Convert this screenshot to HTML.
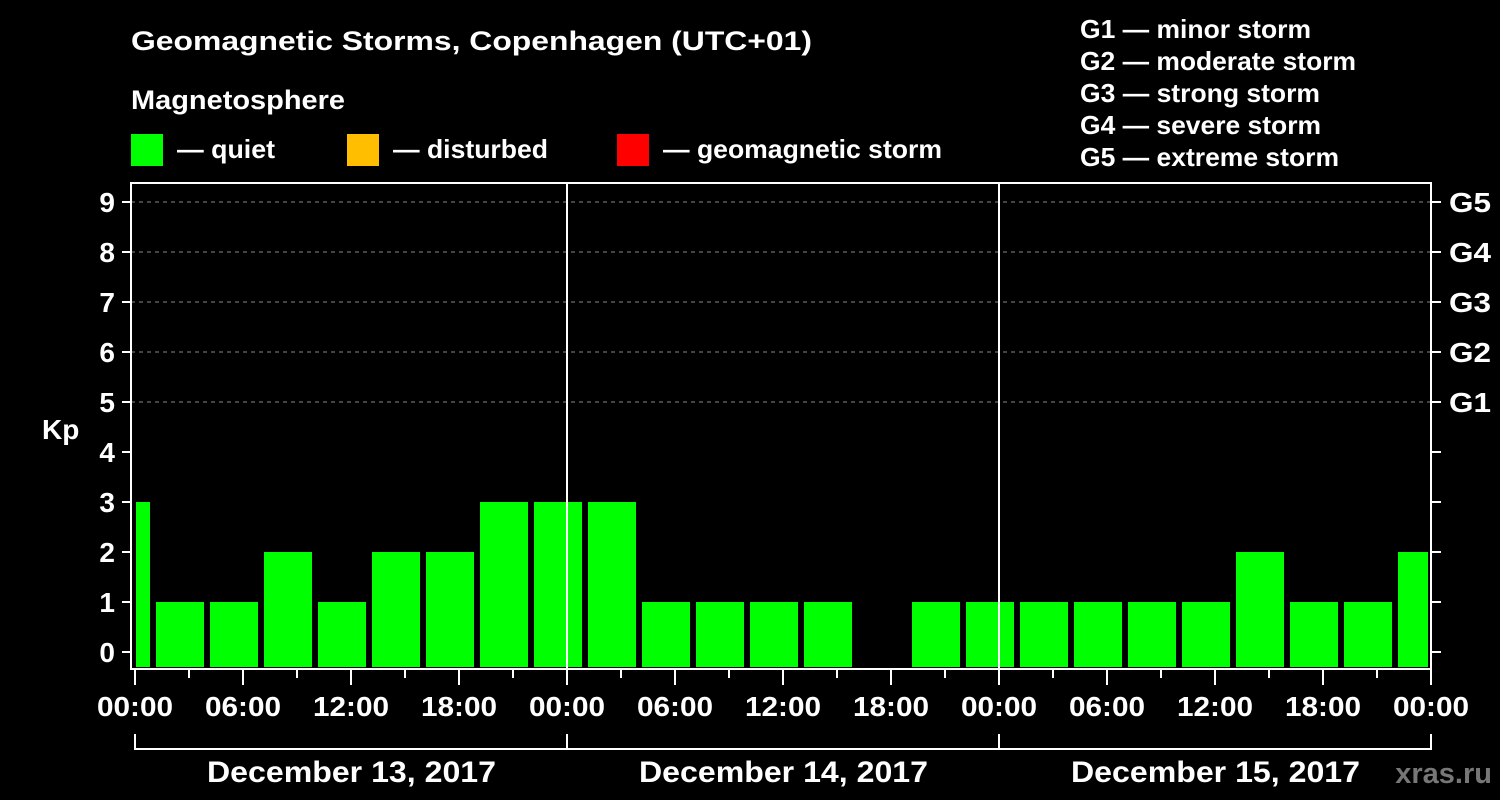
<!DOCTYPE html>
<html><head><meta charset="utf-8"><style>
body{margin:0;background:#000;}
svg{display:block;font-family:"Liberation Sans",Arial,sans-serif;font-weight:bold;}
</style></head><body>
<svg id="c" width="1500" height="800" viewBox="0 0 1500 800">
<text x="131" y="50" fill="#fff" font-size="27" textLength="681" lengthAdjust="spacingAndGlyphs">Geomagnetic Storms, Copenhagen (UTC+01)</text>
<text x="131" y="109" fill="#fff" font-size="27" textLength="214" lengthAdjust="spacingAndGlyphs">Magnetosphere</text>
<g><rect x="131" y="134" width="32" height="32" fill="#00ff00"/><text x="177" y="158" fill="#fff" font-size="26" textLength="98" lengthAdjust="spacingAndGlyphs">— quiet</text></g>
<g><rect x="347" y="134" width="32" height="32" fill="#ffbf00"/><text x="393" y="158" fill="#fff" font-size="26" textLength="155" lengthAdjust="spacingAndGlyphs">— disturbed</text></g>
<g><rect x="617" y="134" width="32" height="32" fill="#ff0000"/><text x="663" y="158" fill="#fff" font-size="26" textLength="279" lengthAdjust="spacingAndGlyphs">— geomagnetic storm</text></g>
<g fill="#fff" font-size="26">
<text x="1080" y="38" textLength="231" lengthAdjust="spacingAndGlyphs">G1 — minor storm</text>
<text x="1080" y="70" textLength="276" lengthAdjust="spacingAndGlyphs">G2 — moderate storm</text>
<text x="1080" y="102" textLength="240" lengthAdjust="spacingAndGlyphs">G3 — strong storm</text>
<text x="1080" y="134" textLength="241" lengthAdjust="spacingAndGlyphs">G4 — severe storm</text>
<text x="1080" y="166" textLength="259" lengthAdjust="spacingAndGlyphs">G5 — extreme storm</text>
</g>
<text x="42" y="439" fill="#fff" font-size="28">Kp</text>
<text x="1492" y="783" fill="#777" font-size="29" text-anchor="end">xras.ru</text>
<g id="grid"></g><g id="bars"></g><g id="axes"></g>
</svg>
<script>
const kpValues=[3,1,1,2,1,2,2,3,3,3,1,1,1,1,0,1,1,1,1,1,1,2,1,1,2];
const yTicks=[0,1,2,3,4,5,6,7,8,9];
const gLabels=["","","","","","G1","G2","G3","G4","G5"];
const xTickLabels=["00:00","06:00","12:00","18:00","00:00","06:00","12:00","18:00","00:00","06:00","12:00","18:00","00:00"];
const dayLabels=["December 13, 2017","December 14, 2017","December 15, 2017"];
const X0=131,X1=1431,YB=669,YT=183;
const xs=h=>135+h*18;
const ys=k=>652-k*50;
const NS="http://www.w3.org/2000/svg";
function mk(p,t,a){const e=document.createElementNS(NS,t);for(const k in a)e.setAttribute(k,a[k]);p.appendChild(e);return e;}
const grid=document.getElementById('grid'),bars=document.getElementById('bars'),axes=document.getElementById('axes');
yTicks.forEach((k,i)=>{
 if(k>=5){const l=mk(grid,'line',{x1:X0,x2:X1,y1:ys(k),y2:ys(k),stroke:'#888','stroke-dasharray':'4,4'});
 
 }
 const t=mk(axes,'line',{x1:122,x2:X0,y1:ys(k),y2:ys(k),stroke:'#fff','stroke-width':2});
 
 
 const t2=mk(axes,'line',{x1:X1,x2:1441,y1:ys(k),y2:ys(k),stroke:'#fff','stroke-width':2});
 
 
 const tx=mk(axes,'text',{x:115,y:ys(k)+10,fill:'#fff','font-size':28,'text-anchor':'end'});tx.textContent=k;
 
 
 if(gLabels[i]){const g=mk(axes,'text',{x:1449,y:ys(k)+10,fill:'#fff','font-size':28,textLength:42,lengthAdjust:'spacingAndGlyphs'});g.textContent=gLabels[i];
 
 }
});
kpValues.forEach((v,i)=>{
 if(v<=0)return;
 let a=xs(-2+i*3)+3,b=xs(1+i*3)-3;
 a=Math.max(a,xs(0)+1);b=Math.min(b,xs(72)-3);
 const r=mk(bars,'rect',{x:a,y:ys(v),width:b-a,height:667-ys(v),fill:'#00ff00'});
 
 
});
const fr=mk(axes,'rect',{x:X0,y:YT,width:X1-X0,height:YB-YT,fill:'none',stroke:'#fff','stroke-width':2});


[24,48].forEach(h=>{const l=mk(axes,'line',{x1:xs(h),x2:xs(h),y1:YT,y2:YB,stroke:'#fff','stroke-width':2});
 
 });
for(let h=0;h<=72;h+=3){const m=h%6==0;const l=mk(axes,'line',{x1:xs(h),x2:xs(h),y1:YB,y2:m?685:678,stroke:'#fff','stroke-width':2});
 
 }
xTickLabels.forEach((s,i)=>{const t=mk(axes,'text',{x:xs(i*6)-38,y:716,fill:'#fff','font-size':28,textLength:76,lengthAdjust:'spacingAndGlyphs'});t.textContent=s;
 
 });
const br=mk(axes,'path',{d:`M${xs(0)},734V749H${xs(72)}V734`,fill:'none',stroke:'#fff','stroke-width':2});


dayLabels.forEach((s,i)=>{
 if(i>0){const l=mk(axes,'line',{x1:xs(i*24),x2:xs(i*24),y1:734,y2:749,stroke:'#fff','stroke-width':2});
 
 }
 const t=mk(axes,'text',{x:xs(i*24+12)-144,y:782,fill:'#fff','font-size':30,textLength:289,lengthAdjust:'spacingAndGlyphs'});t.textContent=s;
 
 });
</script>
</body></html>
